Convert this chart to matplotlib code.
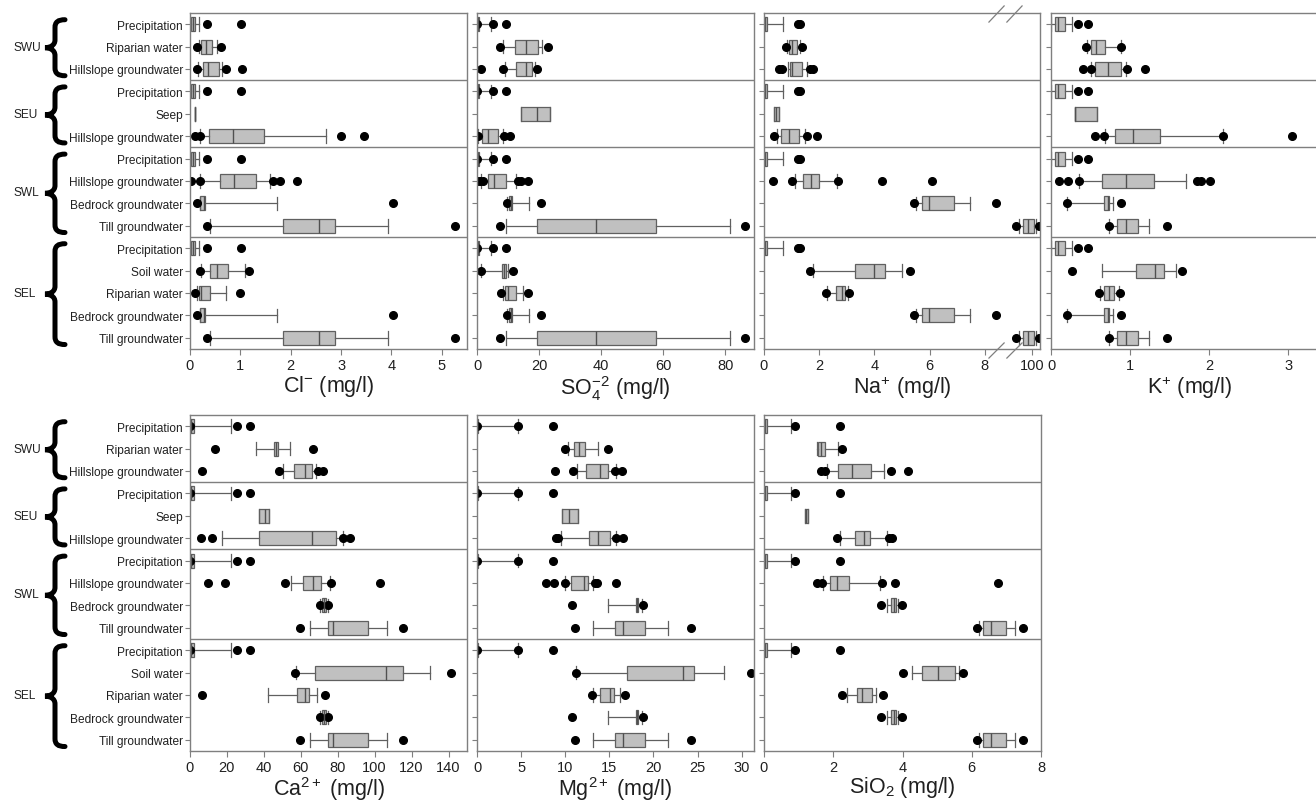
import numpy as np
import matplotlib
matplotlib.use('Agg')
from matplotlib import pyplot as plt
from matplotlib.path import Path
from matplotlib.patches import PathPatch
from matplotlib.transforms import blended_transform_factory

plt.rcParams['font.family'] = 'Liberation Sans'
plt.rcParams['mathtext.fontset'] = 'custom'
plt.rcParams['mathtext.rm'] = 'Liberation Sans'
plt.rcParams['mathtext.it'] = 'Liberation Sans:italic'
plt.rcParams['mathtext.bf'] = 'Liberation Sans:bold'
plt.rcParams['mathtext.default'] = 'regular'

# filas y grupos
groups = ['SWU', 'SEU', 'SWL', 'SEL']
group_rows = [(0, 2), (3, 5), (6, 9), (10, 14)]
row_labels = ['Precipitation', 'Riparian water', 'Hillslope groundwater',
              'Precipitation', 'Seep', 'Hillslope groundwater',
              'Precipitation', 'Hillslope groundwater', 'Bedrock groundwater', 'Till groundwater',
              'Precipitation', 'Soil water', 'Riparian water', 'Bedrock groundwater', 'Till groundwater']
row_sites = ['precip', 'swu_rip', 'swu_hill',
             'precip', 'seep', 'seu_hill',
             'precip', 'swl_hill', 'bedrock', 'till',
             'precip', 'soil', 'sel_rip', 'bedrock', 'till']

# (whislo, q1, med, q3, whishi, fliers)
cl = {
    'precip': (0.0, 0.02, 0.06, 0.10, 0.17, [0.34, 1.01]),
    'swu_rip': (0.18, 0.22, 0.32, 0.44, 0.54, [0.13, 0.61]),
    'swu_hill': (0.15, 0.26, 0.36, 0.57, 0.64, [0.13, 0.72, 1.03]),
    'seep': (0.10, 0.10, 0.10, 0.10, 0.10, []),
    'seu_hill': (0.19, 0.38, 0.85, 1.46, 2.70, [0.09, 0.19, 3.00, 3.46]),
    'swl_hill': (0.19, 0.60, 0.87, 1.32, 1.59, [0.01, 0.19, 1.65, 1.78, 2.13]),
    'bedrock': (0.19, 0.20, 0.27, 0.30, 1.72, [0.13, 4.03]),
    'till': (0.40, 1.84, 2.56, 2.87, 3.93, [0.33, 5.27]),
    'soil': (0.22, 0.40, 0.53, 0.75, 1.09, [0.20, 1.17]),
    'sel_rip': (0.14, 0.17, 0.22, 0.40, 0.72, [0.09, 1.00]),
}
so4 = {
    'precip': (0.1, 0.2, 0.4, 0.8, 4.4, [0.0, 5.3, 9.3]),
    'swu_rip': (8.3, 12.1, 15.8, 19.6, 20.8, [7.5, 23.0]),
    'swu_hill': (9.0, 12.7, 15.8, 17.8, 18.6, [1.2, 8.4, 19.3]),
    'seep': (14.1, 14.1, 19.2, 23.4, 23.4, []),
    'seu_hill': (0.4, 1.6, 3.5, 6.7, 8.3, [0.2, 8.6, 10.5]),
    'swl_hill': (1.3, 3.4, 5.4, 9.3, 12.5, [0.0, 1.1, 1.8, 13.2, 14.2, 16.6]),
    'bedrock': (9.6, 10.3, 10.8, 11.4, 16.8, [9.7, 20.5]),
    'till': (9.2, 19.3, 38.3, 57.6, 81.7, [7.3, 86.5]),
    'soil': (1.2, 8.0, 8.7, 9.3, 9.9, [1.2, 11.6]),
    'sel_rip': (8.3, 8.9, 10.0, 12.5, 14.7, [7.7, 16.5]),
}
na = {
    'precip': (0.0, 0.0, 0.05, 0.10, 0.70, [1.22, 1.32]),
    'swu_rip': (0.82, 0.90, 1.01, 1.18, 1.30, [0.80, 1.39]),
    'swu_hill': (0.88, 0.94, 1.02, 1.37, 1.54, [0.55, 0.66, 1.66, 1.78]),
    'seep': (0.35, 0.35, 0.43, 0.54, 0.54, []),
    'seu_hill': (0.46, 0.61, 0.92, 1.25, 1.48, [0.37, 1.57, 1.92]),
    'swl_hill': (1.13, 1.40, 1.70, 2.00, 2.66, [0.33, 1.01, 2.69, 4.29, 6.07]),
    'bedrock': (5.49, 5.72, 5.99, 6.87, 7.46, [5.45, 8.42]),
    'till': (95.5, 96.7, 98.5, 100.8, 101.5, [94.3, 102.6]),
    'soil': (1.78, 3.29, 3.99, 4.40, 4.99, [1.67, 5.29]),
    'sel_rip': (2.29, 2.61, 2.82, 2.95, 3.04, [2.23, 3.08]),
}
k = {
    'precip': (0.0, 0.046, 0.09, 0.177, 0.27, [0.34, 0.47]),
    'swu_rip': (0.45, 0.50, 0.57, 0.68, 0.88, [0.44, 0.89]),
    'swu_hill': (0.51, 0.56, 0.72, 0.88, 0.95, [0.41, 0.51, 0.96, 1.19]),
    'seep': (0.30, 0.30, 0.30, 0.58, 0.58, []),
    'seu_hill': (0.68, 0.81, 1.03, 1.38, 2.17, [0.56, 0.67, 2.17, 3.04]),
    'swl_hill': (0.36, 0.65, 0.95, 1.30, 1.70, [0.10, 0.21, 0.36, 1.85, 1.89, 2.01]),
    'bedrock': (0.20, 0.67, 0.72, 0.73, 0.78, [0.20, 0.89]),
    'till': (0.73, 0.84, 0.95, 1.10, 1.24, [0.73, 1.46]),
    'soil': (0.65, 1.07, 1.32, 1.43, 1.58, [0.27, 1.65]),
    'sel_rip': (0.62, 0.67, 0.73, 0.80, 0.86, [0.61, 0.87]),
}
ca = {
    'precip': (0.0, 0.0, 0.7, 2.0, 22.0, [0.0, 25.7, 32.7]),
    'swu_rip': (36.0, 45.3, 46.6, 47.5, 54.4, [13.5, 66.7]),
    'swu_hill': (50.6, 56.2, 62.1, 66.1, 68.5, [6.5, 48.2, 69.4, 72.1]),
    'seep': (37.4, 37.4, 40.5, 42.8, 42.8, []),
    'seu_hill': (17.2, 37.4, 65.8, 79.3, 82.9, [5.8, 12.1, 82.9, 86.5]),
    'swl_hill': (54.9, 61.1, 66.7, 71.0, 75.7, [9.6, 19.0, 51.5, 76.6, 103.1]),
    'bedrock': (70.6, 71.4, 72.6, 73.9, 74.8, [70.6, 74.8]),
    'till': (65.2, 74.8, 77.5, 96.6, 106.8, [59.4, 115.4]),
    'soil': (57.4, 67.7, 106.1, 115.1, 129.9, [57.1, 141.4]),
    'sel_rip': (42.4, 58.2, 62.3, 64.7, 69.0, [6.5, 73.0]),
}
mg = {
    'precip': (0.0, 0.0, 0.05, 0.1, 4.7, [0.0, 4.7, 8.6]),
    'swu_rip': (10.3, 11.0, 11.6, 12.2, 13.7, [9.95, 14.9]),
    'swu_hill': (11.3, 12.3, 13.9, 14.8, 15.8, [8.8, 10.9, 15.6, 16.4]),
    'seep': (9.6, 9.6, 10.4, 11.5, 11.5, []),
    'seu_hill': (9.5, 12.7, 13.7, 15.1, 15.8, [8.9, 9.2, 15.8, 16.5]),
    'swl_hill': (9.95, 10.7, 12.1, 12.6, 13.2, [7.8, 8.7, 9.95, 13.4, 13.6, 15.7]),
    'bedrock': (14.8, 18.0, 18.1, 18.3, 18.65, [10.8, 18.8]),
    'till': (13.1, 15.6, 16.6, 19.0, 21.6, [11.1, 24.25]),
    'soil': (11.2, 17.0, 23.4, 24.6, 28.0, [11.2, 31.1]),
    'sel_rip': (13.2, 13.9, 15.05, 15.5, 16.2, [13.0, 16.8]),
}
sio2 = {
    'precip': (0.0, 0.0, 0.04, 0.08, 0.78, [0.9, 2.2]),
    'swu_rip': (1.52, 1.56, 1.65, 1.76, 2.13, [2.26]),
    'swu_hill': (1.82, 2.15, 2.55, 3.09, 3.48, [1.66, 1.77, 3.66, 4.16]),
    'seep': (1.17, 1.17, 1.22, 1.27, 1.27, []),
    'seu_hill': (2.2, 2.64, 2.88, 3.05, 3.56, [2.1, 3.62, 3.69]),
    'swl_hill': (1.7, 1.9, 2.1, 2.45, 3.34, [1.53, 1.67, 3.42, 3.77, 6.75]),
    'bedrock': (3.54, 3.68, 3.75, 3.82, 3.86, [3.38, 3.99]),
    'till': (6.22, 6.33, 6.57, 6.99, 7.24, [6.14, 7.47]),
    'soil': (4.28, 4.57, 5.02, 5.53, 5.64, [4.02, 5.74]),
    'sel_rip': (2.4, 2.7, 2.84, 3.11, 3.23, [2.26, 3.44]),
}

# eje roto para Na
na_data = [0, 8.8, 92, 103]
na_disp = [0, 8.8, 8.9, 10.0]


def na_fwd(x):
    return np.interp(x, na_data, na_disp)


def na_inv(d):
    return np.interp(d, na_disp, na_data)


W, H = 1316, 803
fig = plt.figure(figsize=(W / 100, H / 100), dpi=100)

gris = '#7f7f7f'


def make_ax(left, top, width=277, height=336):
    return fig.add_axes([left / W, 1 - (top + height) / H, width / W, height / H])


def stats_of(d):
    out = []
    for s in row_sites:
        lo, q1, med, q3, hi, fl = d[s]
        out.append(dict(whislo=lo, q1=q1, med=med, q3=q3, whishi=hi, fliers=np.array(fl)))
    return out


def brace(ax, r0, r1, xt=45, xs=55, xe=65):
    tr = blended_transform_factory(fig.transFigure, ax.transData)
    xt, xs, xe = xt / W, xs / W, xe / W
    y0, y1 = r0 - 0.2, r1 + 0.3
    ym = (y0 + y1) / 2
    r = 0.35
    verts = [(xe, y0), (xs + 0.3 * (xe - xs), y0), (xs, y0 + 0.3 * r), (xs, y0 + r),
             (xs, ym - r),
             (xs, ym - 0.3 * r), (xt + 0.5 * (xs - xt), ym), (xt, ym),
             (xt + 0.5 * (xs - xt), ym), (xs, ym + 0.3 * r), (xs, ym + r),
             (xs, y1 - r),
             (xs, y1 - 0.3 * r), (xs + 0.3 * (xe - xs), y1), (xe, y1)]
    codes = [Path.MOVETO, Path.CURVE4, Path.CURVE4, Path.CURVE4, Path.LINETO,
             Path.CURVE4, Path.CURVE4, Path.CURVE4, Path.CURVE4, Path.CURVE4, Path.CURVE4,
             Path.LINETO, Path.CURVE4, Path.CURVE4, Path.CURVE4]
    p = PathPatch(Path(verts, codes), transform=tr, fill=False, lw=3.6,
                  edgecolor='black', capstyle='round', clip_on=False)
    fig.add_artist(p)


panels = [
    (cl, 190, 14, (0, 5.5), [0, 1, 2, 3, 4, 5], r'Cl$^{-}$ (mg/l)', True),
    (so4, 477, 14, (0, 89.3), [0, 20, 40, 60, 80], r'SO$_4^{-2}$ (mg/l)', False),
    (na, 764, 14, (0, 103), [0, 2, 4, 6, 8, 100], r'Na$^{+}$ (mg/l)', False),
    (k, 1051, 14, (0, 3.5), [0, 1, 2, 3], r'K$^{+}$ (mg/l)', False),
    (ca, 190, 416, (0, 150), [0, 20, 40, 60, 80, 100, 120, 140], r'Ca$^{2+}$ (mg/l)', True),
    (mg, 477, 416, (0, 31.4), [0, 5, 10, 15, 20, 25, 30], r'Mg$^{2+}$ (mg/l)', False),
    (sio2, 764, 416, (0, 8), [0, 2, 4, 6, 8], r'SiO$_2$ (mg/l)', False),
]

for d, left, top, xlim, xticks, xlabel, first in panels:
    ax = make_ax(left, top, 276 if d is na else 277)
    if d is na:
        ax.set_xscale('function', functions=(na_fwd, na_inv))
    ax.bxp(stats_of(d), positions=np.arange(15), orientation='horizontal',
           widths=0.62, capwidths=0.6, manage_ticks=False, patch_artist=True,
           boxprops=dict(facecolor='#c0c0c0', edgecolor='#606060', linewidth=0.9),
           whiskerprops=dict(color='#606060', linewidth=0.9),
           capprops=dict(color='#606060', linewidth=0.9),
           medianprops=dict(color='#505050', linewidth=1.0),
           flierprops=dict(marker='o', markerfacecolor='black', markeredgecolor='black',
                           markersize=5.5))
    ax.set_xlim(*xlim)
    ax.set_ylim(14.5, -0.5)
    ax.set_xticks(xticks)
    ax.set_xticklabels([str(t) for t in xticks])
    ax.set_yticks(np.arange(15))
    if first:
        ax.set_yticklabels(row_labels, fontsize=8.6, color='#202020')
    else:
        ax.set_yticklabels([])
    ax.tick_params(axis='x', direction='out', length=4, width=0.8, color=gris,
                   labelsize=10.5, pad=2.5, labelcolor='#202020')
    ax.tick_params(axis='y', direction='out', length=3.5, width=0.8, color=gris, pad=1.5)
    for sp in ax.spines.values():
        sp.set_color(gris)
        sp.set_linewidth(1.0)
    for b in [2.5, 5.5, 9.5]:
        ax.axhline(b, color=gris, lw=1.0)
    ax.set_xlabel(xlabel, fontsize=15.5, labelpad=(1 if top < 100 else 0), color='#202020')

    if first:
        for g, (r0, r1) in zip(groups, group_rows):
            brace(ax, r0, r1)
            ax.text(13 / W, (r0 + r1) / 2, g,
                    transform=blended_transform_factory(fig.transFigure, ax.transData),
                    ha='left', va='center', fontsize=8.6, color='#202020')

    if d is na:
        for x0, x1 in [(0.815, 0.870), (0.880, 0.935)]:
            ax.plot([x0, x1], [-0.027, 0.018], transform=ax.transAxes, color=gris,
                    lw=0.9, clip_on=False)
            ax.plot([x0, x1], [0.973, 1.021], transform=ax.transAxes, color=gris,
                    lw=0.9, clip_on=False)

fig.savefig('out.png', dpi=100)
